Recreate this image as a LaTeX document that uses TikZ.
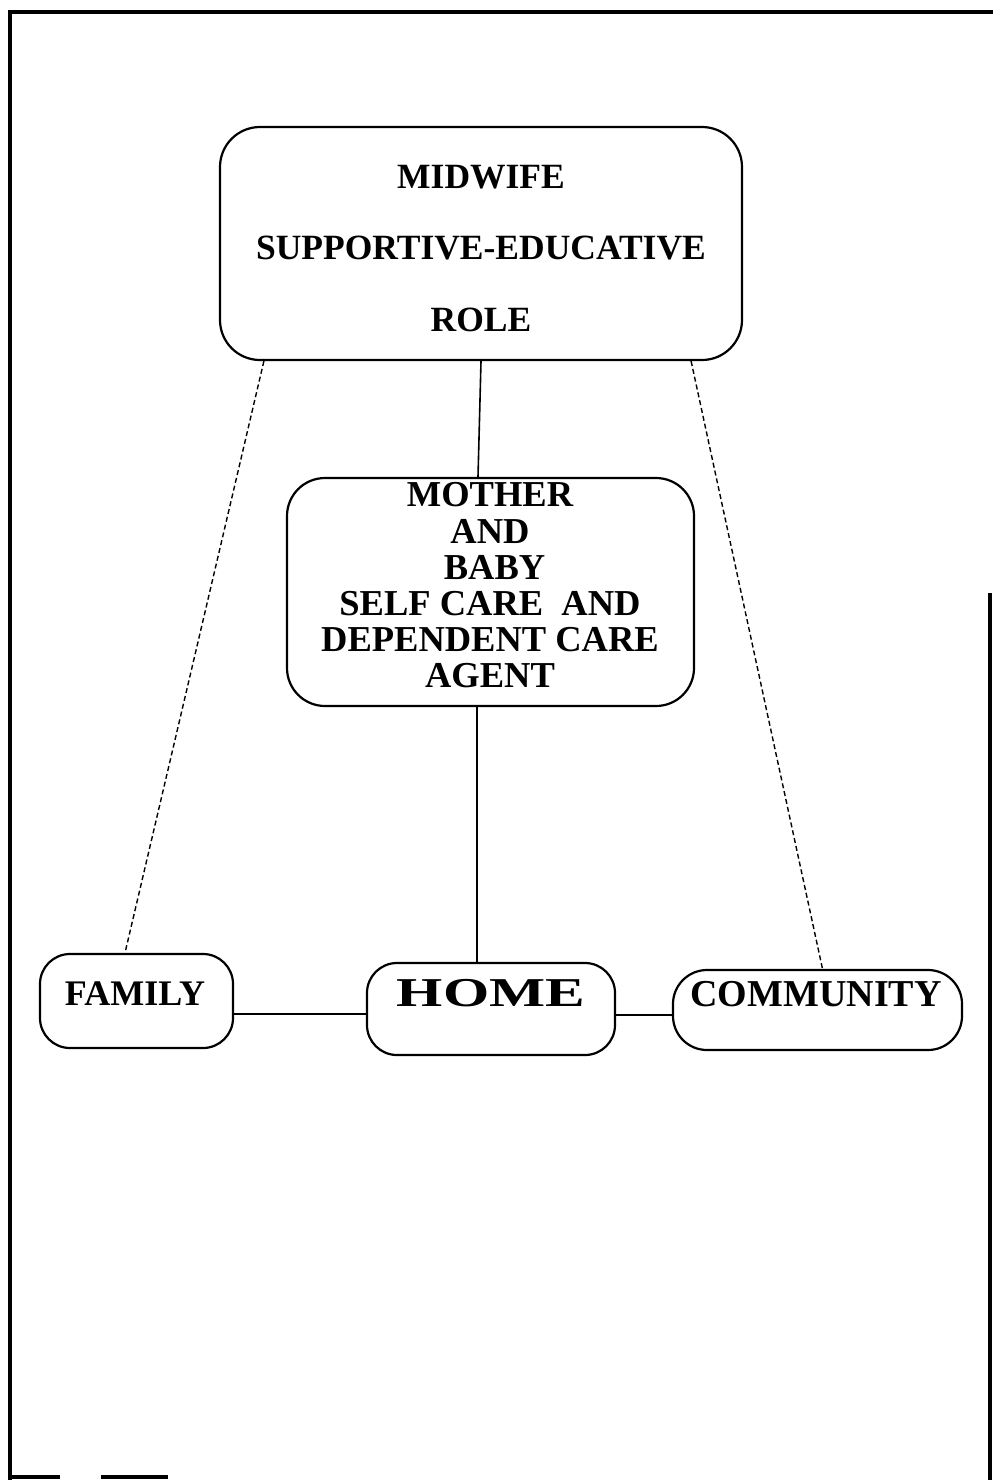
\documentclass[tikz,border=0pt]{standalone}
\usepackage{fontspec}
\setmainfont{Liberation Serif}
\begin{document}
\begin{tikzpicture}[x=1pt,y=-1pt,
  box/.style={draw, line width=2.2pt, rounded corners=#1, inner sep=0pt},
  box/.default=30pt,
  lbl/.style={inner sep=0pt, align=center, font=\bfseries},
  link/.style={line width=1.6pt},
  dlink/.style={line width=1.4pt, dash pattern=on 5pt off 3pt},
  frame/.style={line width=3.5pt}]
\useasboundingbox (0,0) rectangle (993,1480);
% frame
\draw[frame] (10,1480) -- (10,12) -- (993,12);
\draw[frame] (990,593) -- (990,1480);
\draw[frame] (10,1477) -- (60,1477);
\draw[frame] (101,1477) -- (168,1477);
% boxes
\node[box=40pt, minimum width=522pt, minimum height=233pt] (midwife) at (481,243.5) {};
\node[lbl, font=\bfseries\fontsize{35.5}{71.5}\selectfont] (midwifetext) at (481,248.5)
  {MIDWIFE\\SUPPORTIVE-EDUCATIVE\\ROLE};
\node[box=38pt, minimum width=407pt, minimum height=228pt] (mother) at (490.5,592) {};
\node[lbl, font=\bfseries\fontsize{36.5}{36.2}\selectfont] (mothertext) at (490,585.5)
  {MOTHER\\AND\\\ BABY\\SELF CARE\ \ AND\\DEPENDENT CARE\\AGENT};
\node[box=30pt, minimum width=193pt, minimum height=94pt] (family) at (136.5,1001) {};
\node[lbl, font=\bfseries\fontsize{36}{40}\selectfont] (familytext) at (135,993.5) {FAMILY};
\node[box=30pt, minimum width=248pt, minimum height=92pt] (home) at (491,1009) {};
\node[lbl, font=\bfseries\fontsize{41}{44}\selectfont, xscale=1.45] (hometext) at (491,993.5) {HOME};
\node[box=34pt, minimum width=289pt, minimum height=80pt] (community) at (817.5,1010) {};
\node[lbl, font=\bfseries\fontsize{38}{42}\selectfont] (communitytext) at (816,994.5) {COMMUNITY};
% connectors
\draw[link] (midwife.south) -- ([xshift=-12.5pt]mother.north);
\draw[link] ([xshift=-13.5pt]mother.south) -- ([xshift=-14pt]home.north);
\draw[dlink] ([xshift=45pt]midwife.south west) -- ([xshift=-11.5pt]family.north);
\draw[dlink] ([xshift=-52pt]midwife.south east) -- ([xshift=5pt]community.north);
\draw[link] ([yshift=-13pt]family.east) -- ([yshift=-5pt]home.west);
\draw[link] ([yshift=-6pt]home.east) -- ([yshift=-5pt]community.west);
\end{tikzpicture}
\end{document}
